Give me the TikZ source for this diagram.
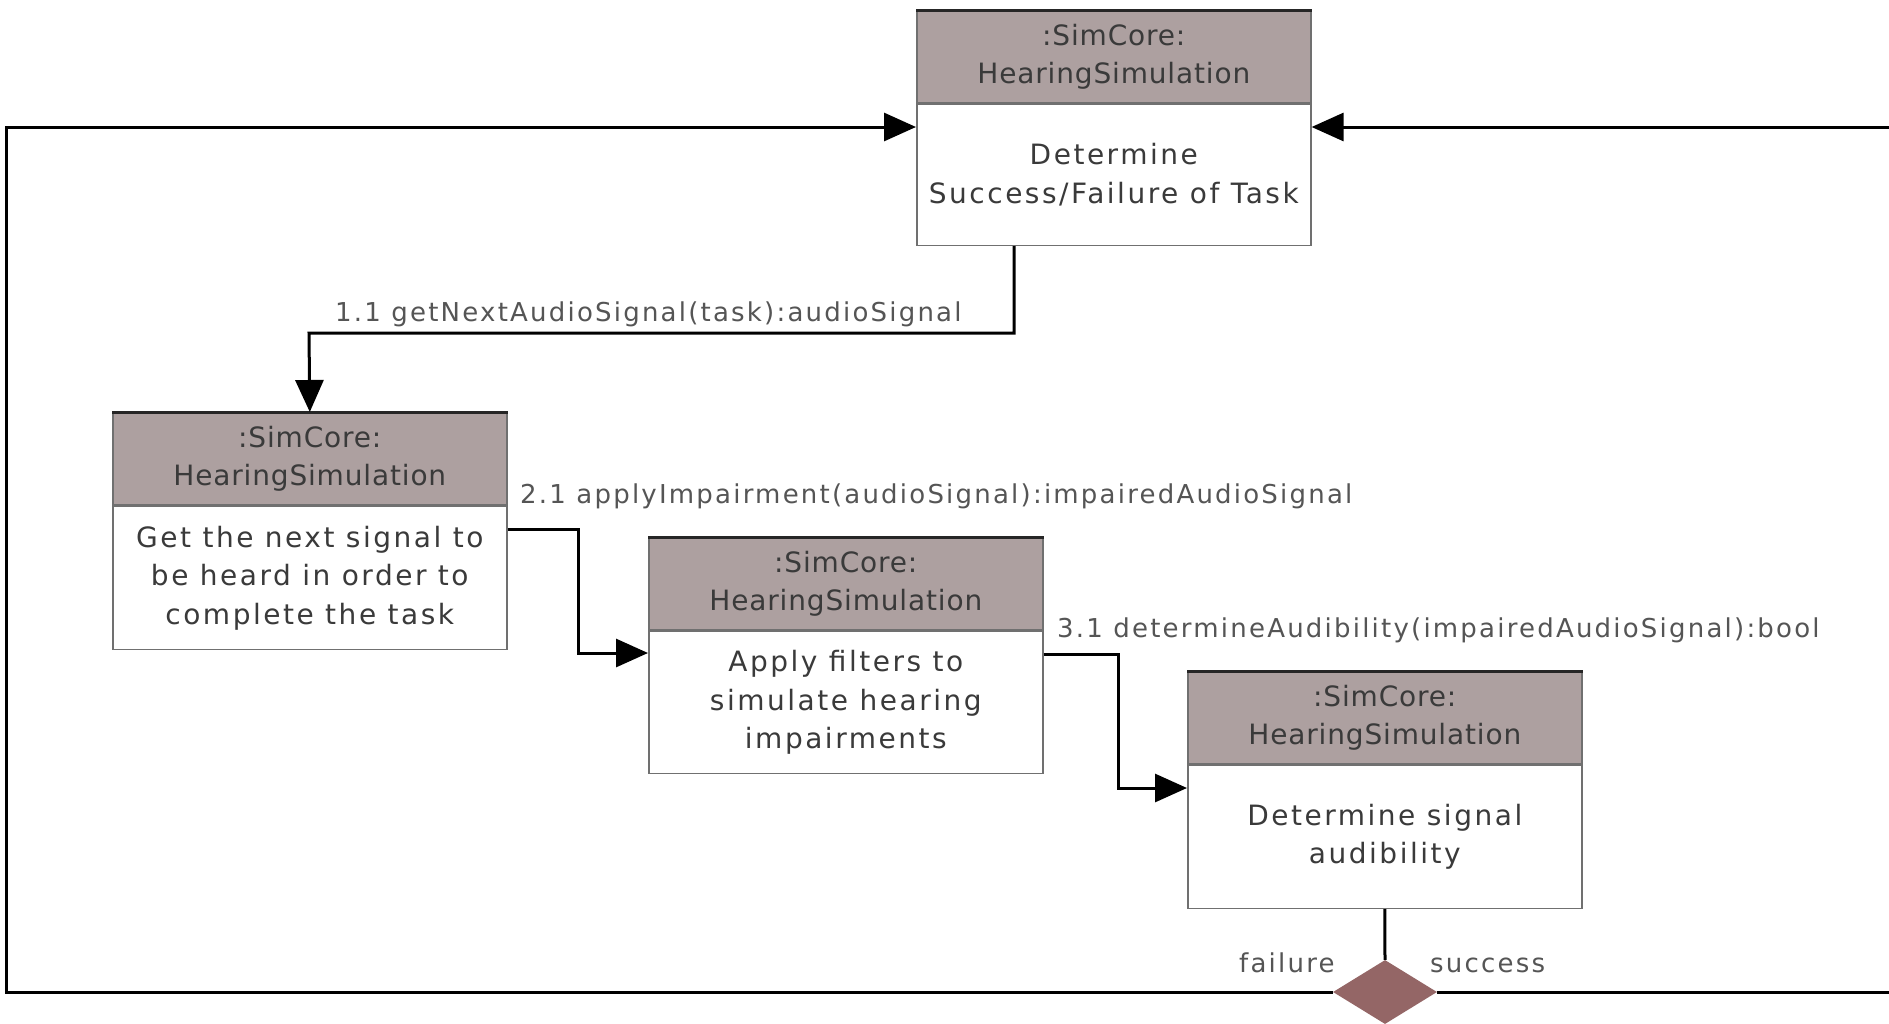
\documentclass[tikz,border=0pt]{standalone}
\usepackage{fontspec}
\setmainfont{DejaVu Sans}
\newfontfamily\hdrfont[LetterSpace=3]{DejaVu Sans}
\newfontfamily\txtfont[LetterSpace=9]{DejaVu Sans}
\newfontfamily\msgfont[LetterSpace=8.5]{DejaVu Sans}
\usetikzlibrary{arrows.meta,shapes.geometric}

\definecolor{hdrfill}{HTML}{ADA0A0}
\definecolor{boxline}{HTML}{707070}
\definecolor{ink}{HTML}{3A3A3A}
\definecolor{lblink}{HTML}{555555}
\definecolor{decfill}{HTML}{946666}

\tikzset{
  hdr/.style={rectangle, fill=hdrfill, draw=boxline, line width=1.6pt,
    minimum width=394pt, minimum height=92pt, inner sep=0pt, align=center,
    text=ink, font=\hdrfont\fontsize{28}{38.5}\selectfont, anchor=north west},
  bodybox/.style={rectangle, fill=white, draw=boxline, line width=1.6pt,
    minimum width=394pt, minimum height=142pt, inner sep=0pt, align=center,
    text=ink, font=\txtfont\fontsize{28}{38.5}\selectfont, anchor=north},
  topedge/.style={line width=3pt, black!85},
  conn/.style={line width=3pt, black},
  arr/.style={conn, -{Triangle[length=32pt,width=28pt]}},
  lbl/.style={text=lblink, font=\msgfont\fontsize{26}{30}\selectfont, inner sep=0pt, anchor=base west},
  decision/.style={diamond, fill=decfill, draw=none, minimum width=104pt,
    minimum height=64pt, inner sep=0pt},
}

\begin{document}
\begin{tikzpicture}[x=1pt,y=-1pt]
  \useasboundingbox[fill=white] (0,0) rectangle (1889,1023);

  % activity boxes: header compartment + body compartment
  \node[hdr] (h0) at (916,10) {:SimCore:\\HearingSimulation};
  \node[bodybox, minimum height=141pt] (b0) at (h0.south) {Determine\\Success/Failure of Task};
  \draw[topedge] (h0.north west) -- (h0.north east);

  \node[hdr] (h1) at (112,412) {:SimCore:\\HearingSimulation};
  \node[bodybox, minimum height=143pt] (b1) at (h1.south) {Get the next signal to\\be heard in order to\\complete the task};
  \draw[topedge] (h1.north west) -- (h1.north east);

  \node[hdr] (h2) at (648,537) {:SimCore:\\HearingSimulation};
  \node[bodybox] (b2) at (h2.south) {Apply filters to\\simulate hearing\\impairments};
  \draw[topedge] (h2.north west) -- (h2.north east);

  \node[hdr] (h3) at (1187,671) {:SimCore:\\HearingSimulation};
  \node[bodybox, minimum height=143pt] (b3) at (h3.south) {Determine signal\\audibility};
  \draw[topedge] (h3.north west) -- (h3.north east);

  % decision
  \node[decision] (d) at (1385,992) {};

  % bend points and loop ends
  \coordinate (c1a) at (1014,333);
  \coordinate (c1b) at (309,333);
  \coordinate (c2a) at (578,529);
  \coordinate (c2b) at (578,653);
  \coordinate (c3a) at (1118,654);
  \coordinate (c3b) at (1118,788);
  \coordinate (fl1) at (6,992);
  \coordinate (fl2) at (6,127);
  \coordinate (sc1) at (1889,992);
  \coordinate (sc2) at (1889,127);

  % messages
  \draw[arr] (b0.south -| c1a) -- (c1a) -- (c1b) -- (h1.north);
  \draw[arr] (b1.east |- c2a) -- (c2a) -- (c2b) -- (b2.west |- c2b);
  \draw[arr] (b2.east |- c3a) -- (c3a) -- (c3b) -- (b3.west |- c3b);

  % decision and loops back to the top
  \draw[conn] (b3.south) -- (d.north);
  \draw[arr] (d.west) -- (fl1) -- (fl2) -- (b0.west |- fl2);
  \draw[conn] (d.east) -- (sc1);
  \draw[arr] (sc2) -- (b0.east |- sc2);

  % labels
  \node[lbl] (l1) at (335,321) {1.1 getNextAudioSignal(task):audioSignal};
  \node[lbl] (l2) at (520,503) {2.1 applyImpairment(audioSignal):impairedAudioSignal};
  \node[lbl] (l3) at (1057,637) {3.1 determineAudibility(impairedAudioSignal):bool};
  \node[lbl] (lf) at (1239,972) {failure};
  \node[lbl] (ls) at (1430,972) {success};
\end{tikzpicture}
\end{document}
